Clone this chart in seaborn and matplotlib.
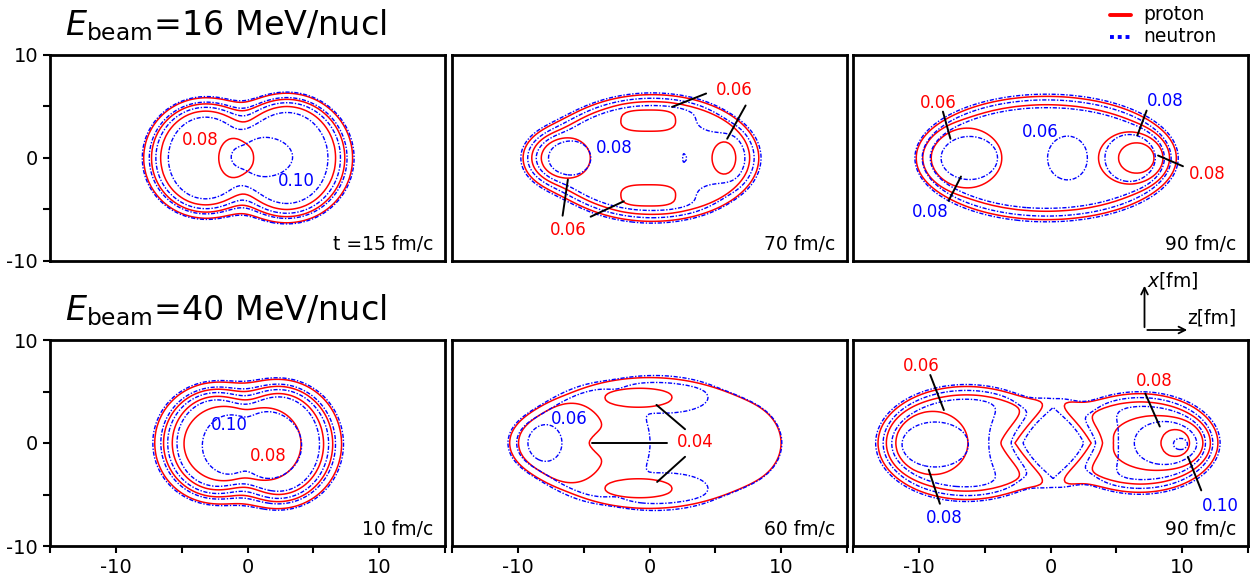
import numpy as np
import matplotlib
matplotlib.use("Agg")
import matplotlib.pyplot as plt
import seaborn as sns
from matplotlib.lines import Line2D

LEVELS = [0.02, 0.04, 0.06, 0.08, 0.10]
ROW_TITLES = [r"$E_{\rm beam}$=16 MeV/nucl", r"$E_{\rm beam}$=40 MeV/nucl"]
TIMES = ["t =15 fm/c", "70 fm/c", "90 fm/c", "10 fm/c", "60 fm/c", "90 fm/c"]

# densities (fm, fm^-3)
# shape: (z0, x0, half length in z, half width in x) of the surface
# bumps: (z0, x0, rz, rx, amplitude, edge width[, norm exponent]) on top of the plateau
SHAPE_16_15 = [(-3.2, 0.0, 4.2, 5.35), (3.0, 0.0, 4.5, 5.8)]
DIFF_16_15 = 0.5
PROTON_16_15 = [0.072, (-0.8, 0.0, 1.5, 2.3, 0.014, 0.35)]
NEUTRON_16_15 = [0.085, (1.05, 0.1, 2.7, 2.3, 0.021, 0.35)]

SHAPE_16_70 = [(0.2, 0.0, 7.9, 5.95), (-6.6, 0.0, 2.7, 2.6)]
DIFF_16_70 = 0.42
PROTON_16_70 = [0.052,
                (-0.1, 3.7, 2.0, 1.0, 0.02, 0.25, 3.0),
                (-0.1, -3.7, 2.0, 1.0, 0.02, 0.25, 3.0),
                (-6.45, 0.0, 1.85, 2.0, 0.02, 0.25),
                (5.7, 0.0, 0.95, 1.6, 0.016, 0.25)]
NEUTRON_16_70 = [0.068,
                 (-6.1, 0.0, 1.75, 1.85, 0.02, 0.25),
                 (2.65, 0.0, 0.3, 0.6, 0.015, 0.1),
                 (5.0, 3.5, 1.6, 1.2, -0.012, 0.5),
                 (5.0, -3.5, 1.6, 1.2, -0.012, 0.5)]

SHAPE_16_90 = [(-0.3, 0.0, 9.6, 5.8)]
DIFF_16_90 = 0.45
PROTON_16_90 = [0.05,
                (-6.9, 0.0, 3.2, 3.1, 0.02, 0.3),
                (6.4, 0.0, 2.9, 2.8, 0.016, 0.3),
                (6.65, 0.0, 1.7, 1.75, 0.02, 0.25)]
NEUTRON_16_90 = [0.068,
                 (-6.25, 0.0, 2.35, 2.25, 0.02, 0.3),
                 (6.2, 0.0, 2.2, 2.5, 0.02, 0.3),
                 (1.3, 0.0, 1.4, 2.0, -0.02, 0.3)]

SHAPE_40_10 = [(-2.4, 0.0, 4.0, 5.2), (2.4, -0.1, 4.1, 5.6)]
DIFF_40_10 = 0.6
PROTON_40_10 = [0.078, (-0.6, -0.1, 4.2, 3.8, 0.016, 0.35)]
NEUTRON_40_10 = [0.094, (0.4, -0.25, 3.8, 3.65, 0.014, 0.35)]

SHAPE_40_60 = [(0.0, 0.0, 9.3, 6.5), (-7.8, 0.0, 2.7, 2.5), (7.0, 0.0, 2.8, 3.4)]
DIFF_40_60 = 0.42
PROTON_40_60 = [0.034,
                (-6.8, 0.0, 3.3, 3.9, 0.022, 0.35),
                (-4.0, 0.0, 1.4, 1.2, -0.016, 0.3),
                (-0.85, 4.45, 2.4, 0.8, 0.02, 0.2),
                (-0.85, -4.45, 2.4, 0.8, 0.02, 0.2)]
NEUTRON_40_60 = [0.036,
                 (-5.6, 0.0, 5.2, 6.0, 0.016, 0.4),
                 (1.2, 4.9, 3.2, 1.6, 0.016, 0.35),
                 (1.2, -4.9, 3.2, 1.6, 0.016, 0.35),
                 (-8.0, 0.0, 1.25, 1.8, 0.02, 0.25)]

SHAPE_40_90 = [(-6.4, 0.0, 6.5, 5.3), (6.8, 0.0, 5.7, 4.6), (0.3, 0.0, 3.2, 4.1)]
DIFF_40_90 = 0.45
PROTON_40_90 = [0.05,
                (-9.2, 0.0, 3.0, 3.25, 0.018, 0.3),
                (8.2, 0.0, 3.9, 2.9, 0.016, 0.3),
                (9.6, 0.0, 1.7, 1.9, 0.016, 0.25),
                (0.2, 0.0, 3.5, 4.6, -0.038, 0.45, 1.2)]
NEUTRON_40_90 = [0.066,
                 (-8.8, -0.15, 2.7, 2.3, 0.024, 0.3),
                 (8.75, 0.0, 2.75, 2.4, 0.02, 0.3),
                 (9.9, -0.1, 0.75, 0.75, 0.02, 0.2),
                 (0.3, 0.0, 4.5, 5.5, -0.02, 0.6),
                 (0.2, 0.0, 2.9, 3.8, -0.03, 0.3, 1.3)]

# contour value labels: text, colour, z, x, leader lines
LABELS_16_15 = [("0.08", "red", -3.56, 1.76, []), ("0.10", "blue", 3.7, -2.2, [])]
LABELS_16_70 = [("0.06", "red", 6.4, 6.6, [((1.72, 4.96), (4.3, 6.26)), ((7.3, 5.1), (5.9, 1.87))]),
                ("0.06", "red", -6.2, -7.0, [((-6.6, -5.6), (-6.2, -2.1)), ((-4.47, -5.7), (-1.95, -4.2))]),
                ("0.08", "blue", -2.7, 0.98, [])]
LABELS_16_90 = [("0.06", "red", -8.5, 5.3, [((-8.17, 4.5), (-7.6, 1.87))]),
                ("0.08", "blue", -9.1, -5.2, [((-7.74, -4.15), (-6.8, -1.8))]),
                ("0.06", "blue", -0.8, 2.5, []),
                ("0.08", "blue", 8.7, 5.5, [((7.3, 4.6), (6.6, 2.2))]),
                ("0.08", "red", 11.9, -1.56, [((10.06, -0.8), (8.17, 0.24))])]
LABELS_40_10 = [("0.10", "blue", -1.36, 1.7, []), ("0.08", "red", 1.55, -1.3, [])]
LABELS_40_60 = [("0.06", "blue", -6.1, 2.3, []),
                ("0.04", "red", 3.5, 0.05, [((-4.34, 0.0), (1.34, 0.0)), ((0.53, 3.7), (2.7, 1.34)),
                                            ((0.58, -3.78), (2.7, -1.34))])]
LABELS_40_90 = [("0.06", "red", -9.8, 7.5, [((-9.13, 6.6), (-8.1, 3.2))]),
                ("0.08", "blue", -8.1, -7.3, [((-8.4, -5.9), (-9.25, -2.6))]),
                ("0.08", "red", 7.85, 6.0, [((7.2, 4.8), (8.3, 1.6))]),
                ("0.10", "blue", 12.9, -6.1, [((11.45, -4.6), (10.44, -1.34))])]

PANELS = [
    (SHAPE_16_15, DIFF_16_15, PROTON_16_15, NEUTRON_16_15, LABELS_16_15),
    (SHAPE_16_70, DIFF_16_70, PROTON_16_70, NEUTRON_16_70, LABELS_16_70),
    (SHAPE_16_90, DIFF_16_90, PROTON_16_90, NEUTRON_16_90, LABELS_16_90),
    (SHAPE_40_10, DIFF_40_10, PROTON_40_10, NEUTRON_40_10, LABELS_40_10),
    (SHAPE_40_60, DIFF_40_60, PROTON_40_60, NEUTRON_40_60, LABELS_40_60),
    (SHAPE_40_90, DIFF_40_90, PROTON_40_90, NEUTRON_40_90, LABELS_40_90),
]


def ell_dist(Z, X, z0, x0, rz, rx, p=2.0):
    # approximate signed distance to a (super)ellipse surface
    u = np.abs(Z - z0) / rz
    v = np.abs(X - x0) / rx
    r = np.maximum((u ** p + v ** p) ** (1.0 / p), 1e-9)
    g = r ** (1.0 - p) * np.hypot(u ** (p - 1) / rz, v ** (p - 1) / rx)
    return (r - 1.0) / np.maximum(g, 1e-9)


def fermi(d, a):
    return 0.5 * (1.0 - np.tanh(d / (2.0 * a)))


def density(Z, X, shape, diff, params, soft=0.8):
    ds = np.array([ell_dist(Z, X, *e) for e in shape])
    m = ds.min(axis=0)
    D = m - soft * np.log(np.exp(-(ds - m) / soft).sum(axis=0))
    plateau = np.full_like(Z, params[0])
    for b in params[1:]:
        z0, x0, rz, rx, amp, w = b[:6]
        p = b[6] if len(b) > 6 else 2.0
        plateau = plateau + amp * fermi(ell_dist(Z, X, z0, x0, rz, rx, p), w)
    return plateau * fermi(D, diff)


sns.set_theme(style="white")
plt.rcParams["font.family"] = ["DejaVu Sans"]
plt.rcParams["axes.unicode_minus"] = False
plt.rcParams["text.color"] = "black"

W, H = 1254, 582
fig = plt.figure(figsize=(W / 100, H / 100), dpi=100)

z = np.arange(-15, 15.001, 0.2)
x = np.arange(-10, 10.001, 0.2)
Z, X = np.meshgrid(z, x)

col_left = [50, 452, 853]
row_top = [55, 340]
pw, ph = 395, 206

for i, (shape, diff, prot, neut, labels) in enumerate(PANELS):
    row, col = divmod(i, 3)
    ax = fig.add_axes([col_left[col] / W, 1 - (row_top[row] + ph) / H, pw / W, ph / H])

    rho_p = density(Z, X, shape, diff, prot)
    rho_n = density(Z, X, shape, diff, neut)
    ax.contour(z, x, rho_p, levels=LEVELS, colors="red", linewidths=1.1)
    cs = ax.contour(z, x, rho_n, levels=LEVELS, colors="blue", linewidths=1.0)
    cs.set_linestyle((0, (3.0, 1.2, 1.0, 1.2)))

    for text, color, tz, tx, leaders in labels:
        for (z1, x1), (z2, x2) in leaders:
            ax.plot([z1, z2], [x1, x2], color="black", lw=1.4)
        ax.text(tz, tx, text, color=color, fontsize=12, ha="center", va="center")

    ax.text(0.97, 0.08, TIMES[i], transform=ax.transAxes, ha="right", va="center",
            fontsize=13.5, color="black")

    ax.set_xlim(-15, 15)
    ax.set_ylim(-10, 10)
    for sp in ax.spines.values():
        sp.set_linewidth(2.0)
        sp.set_color("black")

    ax.set_xticks([-15, -10, -5, 0, 5, 10, 15])
    ax.set_yticks([-10, -5, 0, 5, 10])
    ax.tick_params(direction="out", length=5, width=1.5, labelsize=14, colors="black")
    if row == 1:
        ax.set_xticklabels(["", "-10", "", "0", "", "10", ""])
    else:
        ax.tick_params(bottom=False, labelbottom=False)
    if col == 0:
        ax.set_yticklabels(["-10", "", "0", "", "10"])
        ax.tick_params(left=True)
    else:
        ax.tick_params(left=False, labelleft=False)
    ax.tick_params(bottom=(row == 1))

fig.text(65 / W, 1 - 25 / H, ROW_TITLES[0], fontsize=24, ha="left", va="center", color="black")
fig.text(65 / W, 1 - 310 / H, ROW_TITLES[1], fontsize=24, ha="left", va="center", color="black")

# legend
fig.add_artist(Line2D([1110 / W, 1131 / W], [1 - 15 / H, 1 - 15 / H], color="red", lw=2.8,
                      transform=fig.transFigure))
fig.add_artist(Line2D([1110 / W, 1131 / W], [1 - 37 / H, 1 - 37 / H], color="blue", lw=2.8,
                      ls=(0, (1.0, 1.0)), transform=fig.transFigure))
fig.text(1143 / W, 1 - 14 / H, "proton", fontsize=13.5, va="center")
fig.text(1143 / W, 1 - 36 / H, "neutron", fontsize=13.5, va="center")

# coordinate arrows
ox, oy = 1144.5 / W, 1 - 330 / H
fig.add_artist(matplotlib.patches.FancyArrowPatch((ox, oy), (ox, 1 - 283 / H), arrowstyle="->",
                                                  mutation_scale=12, lw=1.3, color="black",
                                                  transform=fig.transFigure))
fig.add_artist(matplotlib.patches.FancyArrowPatch((ox, oy), (1190 / W, oy), arrowstyle="->",
                                                  mutation_scale=12, lw=1.3, color="black",
                                                  transform=fig.transFigure))
fig.text(1147 / W, 1 - 280 / H, r"$x$[fm]", fontsize=13.5, va="center")
fig.text(1187 / W, 1 - 318 / H, "z[fm]", fontsize=13.5, va="center")

fig.savefig("out.png", dpi=100)
